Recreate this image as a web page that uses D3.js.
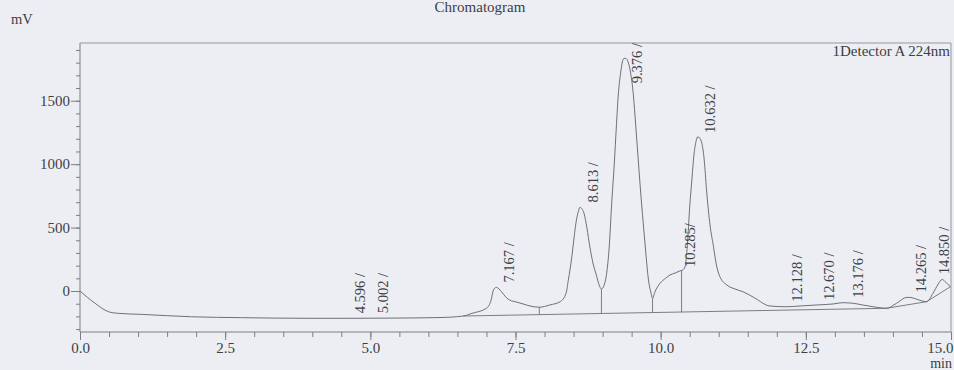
<!DOCTYPE html>
<html>
<head>
<meta charset="utf-8">
<script src="https://cdn.jsdelivr.net/npm/d3@7/dist/d3.min.js"></script>
<style>
  html, body { margin: 0; padding: 0; background: #eceef3; }
  svg { display: block; font-family: "Liberation Serif", "Times New Roman", serif; }
</style>
</head>
<body>
<svg id="chart" width="954" height="370"></svg>
<script>
// Detector trace: retention time (min) and signal (mV)
const traceTime = [
  0.00, 0.26, 0.49, 0.66, 1.06, 1.92, 2.78, 3.93, 4.68, 5.51, 6.20, 6.60,
  6.75, 7.00, 7.08, 7.12, 7.17, 7.26, 7.34, 7.40, 7.52, 7.63, 7.75, 7.91,
  8.09, 8.27, 8.37, 8.41, 8.47, 8.51, 8.54, 8.58, 8.61, 8.64, 8.68, 8.73,
  8.78, 8.83, 8.90, 8.94, 8.98, 9.02, 9.07, 9.11, 9.16, 9.20, 9.24, 9.27,
  9.31, 9.34, 9.37, 9.40, 9.44, 9.48, 9.53, 9.57, 9.61, 9.65, 9.70, 9.74,
  9.79, 9.83, 9.86, 9.90, 9.99, 10.08, 10.16, 10.25, 10.33, 10.38, 10.42, 10.46,
  10.50, 10.54, 10.57, 10.61, 10.64, 10.67, 10.71, 10.75, 10.79, 10.85, 10.91, 10.96,
  11.02, 11.14, 11.28, 11.42, 11.62, 11.88, 12.17, 12.40, 12.69, 12.97, 13.14, 13.32,
  13.48, 13.66, 13.89, 14.06, 14.24, 14.31, 14.41, 14.58, 14.69, 14.78, 14.85, 14.90,
  14.99
];
const traceSignal = [
  0, -97, -163, -176, -184, -203, -210, -215, -215, -213, -209, -197,
  -176, -136, -71, 8, 29, -6, -51, -71, -87, -102, -118, -128,
  -110, -84, -18, 87, 270, 426, 534, 623, 660, 650, 612, 497,
  349, 229, 113, 47, 16, 39, 140, 323, 717, 993, 1322, 1545,
  1716, 1805, 1834, 1833, 1805, 1726, 1545, 1308, 1059, 812, 534, 323,
  87, -8, -58, -8, 61, 99, 126, 142, 158, 166, 192, 363,
  664, 891, 1059, 1182, 1216, 1206, 1164, 1033, 796, 520, 349, 205,
  113, 47, 16, -6, -55, -118, -124, -118, -110, -102, -92, -97,
  -110, -124, -136, -97, -50, -51, -65, -84, -18, 55, 92, 73,
  34
];

// Integration baseline vertices
const baselineTime = [6.60, 13.89, 14.58, 14.99];
const baselineSignal = [-197, -136, -84, 34];

// Peak boundaries dropped to the baseline
const dropTimes = [7.91, 8.98, 9.86, 10.36];

// Peak retention times and their annotations
const peakTimes = [4.596, 5.002, 7.167, 8.613, 9.376, 10.285, 10.632, 12.128, 12.670, 13.176, 14.265, 14.850];
const peakLabels = ["4.596 /", "5.002 /", "7.167 /", "8.613 /", "9.376 /", "10.285/", "10.632 /", "12.128 /", "12.670 /", "13.176 /", "14.265 /", "14.850 /"];

// Axis ticks
const xMajorTicks = [0, 2.5, 5, 7.5, 10, 12.5, 15];
const xTickLabels = ["0.0", "2.5", "5.0", "7.5", "10.0", "12.5", "15.0"];
const yMajorTicks = [0, 500, 1000, 1500];
const yTickLabels = ["0", "500", "1000", "1500"];

const ink = "#3c3f44";
const lineInk = "#6e7075";
const axisInk = "#7c7e83";
const serif = "Liberation Serif, Times New Roman, serif";

const svg = d3.select("#chart");
const x = d3.scaleLinear().domain([0, 15]).range([80, 951]);
const y = d3.scaleLinear().domain([-323, 1955]).range([332, 43]);
const plotTop = y.range()[1];
const plotBottom = y.range()[0];

// linear lookup of a polyline at time t
function valueAt(ts, vs, t) {
  const i = d3.bisectLeft(ts, t);
  if (i <= 0) return vs[0];
  if (i >= ts.length) return vs[vs.length - 1];
  const f = (t - ts[i - 1]) / (ts[i] - ts[i - 1]);
  return vs[i - 1] + f * (vs[i] - vs[i - 1]);
}

// Title and unit labels
svg.append("text").attr("x", 480).attr("y", 12).attr("text-anchor", "middle")
  .attr("font-size", 15).attr("fill", ink).text("Chromatogram");
svg.append("text").attr("x", 11).attr("y", 24)
  .attr("font-size", 14.5).attr("fill", ink).text("mV");

// Frame (top and right)
svg.append("path")
  .attr("d", `M${x(0)},${plotTop}H${x(15)}V${plotBottom}`)
  .attr("fill", "none").attr("stroke", "#95979c").attr("stroke-width", 1);

// Y axis: minor then major ticks
const yMinor = svg.append("g").attr("transform", `translate(${x(0)},0)`)
  .call(d3.axisLeft(y).tickValues(d3.range(-300, 1901, 100)).tickSize(4).tickFormat(""));
const yMajor = svg.append("g").attr("transform", `translate(${x(0)},0)`)
  .call(d3.axisLeft(y).tickValues(yMajorTicks).tickSize(9).tickPadding(1)
    .tickFormat((d, i) => yTickLabels[i]));

// X axis: minor then major ticks
const xMinor = svg.append("g").attr("transform", `translate(0,${plotBottom})`)
  .call(d3.axisBottom(x).tickValues(d3.range(0, 15.01, 0.5)).tickSize(5).tickFormat(""));
const xMajor = svg.append("g").attr("transform", `translate(0,${plotBottom})`)
  .call(d3.axisBottom(x).tickValues(xMajorTicks).tickSize(8).tickPadding(2)
    .tickFormat((d, i) => xTickLabels[i]));

[yMinor, yMajor, xMinor, xMajor].forEach(g => {
  g.select(".domain").remove();
  g.selectAll("line").attr("stroke", axisInk);
  g.selectAll("text").attr("fill", ink).attr("font-size", 15).attr("font-family", serif);
});
// last x label kept inside the page
xMajor.selectAll(".tick").filter(d => d === 15).select("text")
  .attr("text-anchor", "end").attr("x", 2);

// Axis lines
svg.append("line").attr("x1", x(0)).attr("x2", x(0)).attr("y1", plotTop).attr("y2", plotBottom)
  .attr("stroke", axisInk);
svg.append("line").attr("x1", x(0)).attr("x2", x(15)).attr("y1", plotBottom).attr("y2", plotBottom)
  .attr("stroke", axisInk);

svg.append("text").attr("x", 952).attr("y", 368).attr("text-anchor", "end")
  .attr("font-size", 14).attr("fill", ink).text("min");

// Detector legend
svg.append("text").attr("x", 950).attr("y", 56).attr("text-anchor", "end")
  .attr("font-size", 15).attr("fill", ink).text("1Detector A 224nm");

// Baseline and drop lines
const baseLine = d3.line().x(d => x(d[0])).y(d => y(d[1]));
svg.append("path")
  .datum(d3.zip(baselineTime, baselineSignal))
  .attr("d", baseLine).attr("fill", "none").attr("stroke", lineInk).attr("stroke-width", 0.9);

svg.selectAll("line.drop").data(dropTimes).join("line").attr("class", "drop")
  .attr("x1", d => x(d)).attr("x2", d => x(d))
  .attr("y1", d => y(valueAt(traceTime, traceSignal, d)))
  .attr("y2", d => y(valueAt(baselineTime, baselineSignal, d)))
  .attr("stroke", lineInk).attr("stroke-width", 0.9);

// Trace
const traceLine = d3.line().x(d => x(d[0])).y(d => y(d[1])).curve(d3.curveMonotoneX);
svg.append("path")
  .datum(d3.zip(traceTime, traceSignal))
  .attr("d", traceLine).attr("fill", "none").attr("stroke", lineInk).attr("stroke-width", 1);

// Peak annotations, rotated, set just above each apex
const lbl = svg.append("g").attr("font-size", 14.5).attr("fill", ink);
peakTimes.forEach((t, i) => {
  const txt = lbl.append("text").attr("text-anchor", "start").text(peakLabels[i]);
  const len = txt.node().getComputedTextLength();
  const bx = Math.min(x(t) + 18, 948.5);
  const by = Math.max(y(valueAt(traceTime, traceSignal, t)) - 5, plotTop + len);
  txt.attr("transform", `translate(${bx},${by}) rotate(-90)`);
});
</script>
</body>
</html>
